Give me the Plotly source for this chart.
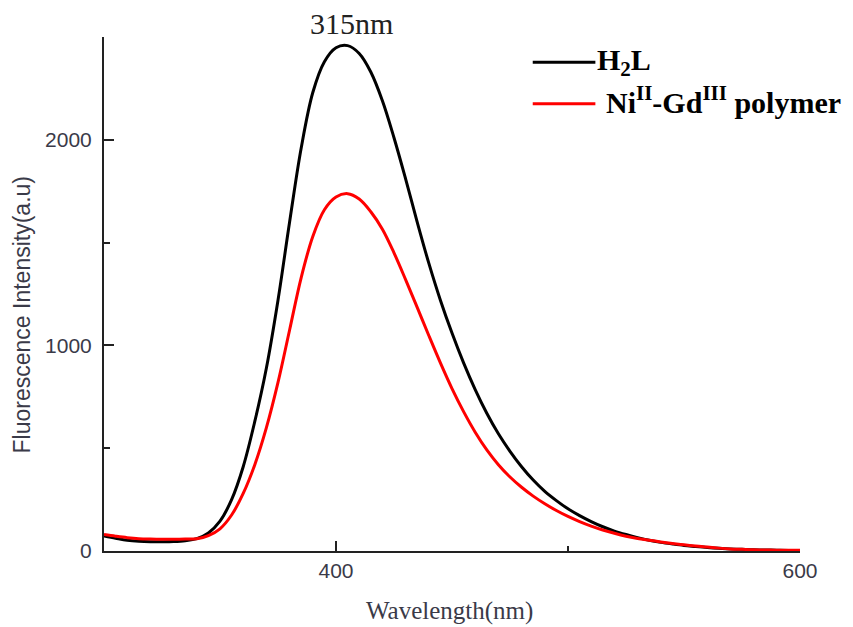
import plotly.graph_objects as go

wavelength = [300, 305, 310, 315, 320, 325, 330, 335, 340, 345, 350, 355, 360, 365, 370,
              375, 380, 385, 390, 395, 400, 405, 410, 415, 420, 425, 430, 435, 440, 445,
              450, 455, 460, 465, 470, 475, 480, 485, 490, 495, 500, 505, 510, 515, 520,
              525, 530, 535, 540, 545, 550, 555, 560, 565, 570, 575, 580, 585, 590, 595, 600]

h2l = [73, 62, 52, 47, 45, 45, 46, 50, 60, 88, 145, 250, 410, 630, 890,
       1220, 1600, 1960, 2230, 2380, 2448, 2458, 2420, 2330, 2190, 2010, 1810, 1600, 1400, 1220,
       1060, 915, 785, 670, 570, 485, 410, 345, 290, 245, 205, 172, 143, 118, 97,
       80, 65, 52, 42, 34, 27, 22, 17, 13, 10, 8, 6, 5, 4, 3, 3]

ni_gd = [80, 72, 65, 60, 58, 57, 57, 58, 60, 75, 108, 175, 280, 420, 600,
         820, 1075, 1330, 1530, 1660, 1722, 1738, 1712, 1650, 1565, 1450, 1320, 1185, 1048, 915,
         790, 678, 578, 492, 420, 360, 310, 267, 230, 197, 168, 143, 121, 102, 86,
         72, 61, 52, 44, 37, 30, 24, 19, 14, 10, 8, 6, 5, 4, 4, 4]

series_names = ["H<sub>2</sub>L", "Ni<sup>II</sup>-Gd<sup>III</sup> polymer"]
series_colors = ["#000000", "#ff0000"]

x_ticks = [400, 600]
y_ticks = [0, 1000, 2000]

fig = go.Figure()
for vals, name, col in zip([h2l, ni_gd], series_names, series_colors):
    fig.add_trace(go.Scatter(x=wavelength, y=vals, mode="lines", name=name,
                             line=dict(color=col, width=3, shape="spline", smoothing=1.0),
                             showlegend=False))

axis_font = dict(family="Liberation Sans, Arial, sans-serif", size=21, color="#3a3a48")

fig.update_layout(
    width=845, height=619,
    margin=dict(l=96, r=53, t=29, b=76),
    paper_bgcolor="white", plot_bgcolor="white",
    xaxis=dict(range=[300, 600], showgrid=False, zeroline=False, showline=True,
               linecolor="#222", linewidth=2, ticks="inside", ticklen=10, tickwidth=2,
               tickcolor="#222", tickvals=x_ticks, ticktext=[str(v) for v in x_ticks],
               tickfont=axis_font,
               minor=dict(ticks="inside", ticklen=5, tickwidth=2, tickcolor="#222",
                          tickvals=[500])),
    yaxis=dict(range=[0, 2500], showgrid=False, zeroline=False, showline=True,
               linecolor="#222", linewidth=2, ticks="inside", ticklen=10, tickwidth=2,
               tickcolor="#222", tickvals=y_ticks, ticktext=[str(v) for v in y_ticks],
               tickfont=axis_font, ticklabelstandoff=6,
               minor=dict(ticks="inside", ticklen=6, tickwidth=2, tickcolor="#222",
                          tickvals=[500, 1500, 2500])),
)

# axis titles and peak label
fig.add_annotation(text="Fluorescence Intensity(a.u)", xref="paper", yref="paper",
                   x=-0.118, y=0.46, textangle=-90, showarrow=False,
                   xanchor="center", yanchor="middle",
                   font=dict(family="Liberation Sans, Arial, sans-serif", size=23, color="#3a3a48"))
fig.add_annotation(text="Wavelength(nm)", xref="paper", yref="paper",
                   x=0.497, y=-0.117, showarrow=False, xanchor="center", yanchor="middle",
                   font=dict(family="Liberation Serif, Times New Roman, serif", size=25, color="#3a3a48"))
fig.add_annotation(text="315nm", xref="paper", yref="paper",
                   x=0.356, y=1.027, showarrow=False, xanchor="center", yanchor="middle",
                   font=dict(family="Liberation Serif, Times New Roman, serif", size=30, color="#222"))

# legend
leg_y = [0.951, 0.870]
leg_ty = [0.951, 0.877]
leg_tx = [0.706, 0.718]
for yy, ty, tx, name, col in zip(leg_y, leg_ty, leg_tx, series_names, series_colors):
    fig.add_shape(type="line", xref="paper", yref="paper", x0=0.616, x1=0.706, y0=yy, y1=yy,
                  line=dict(color=col, width=3))
    fig.add_annotation(text="<b>" + name + "</b>", xref="paper", yref="paper",
                       x=tx, y=ty, showarrow=False, xanchor="left", yanchor="middle",
                       font=dict(family="Liberation Serif, Times New Roman, serif", size=30, color="#000"))

fig.write_html("out.html")
